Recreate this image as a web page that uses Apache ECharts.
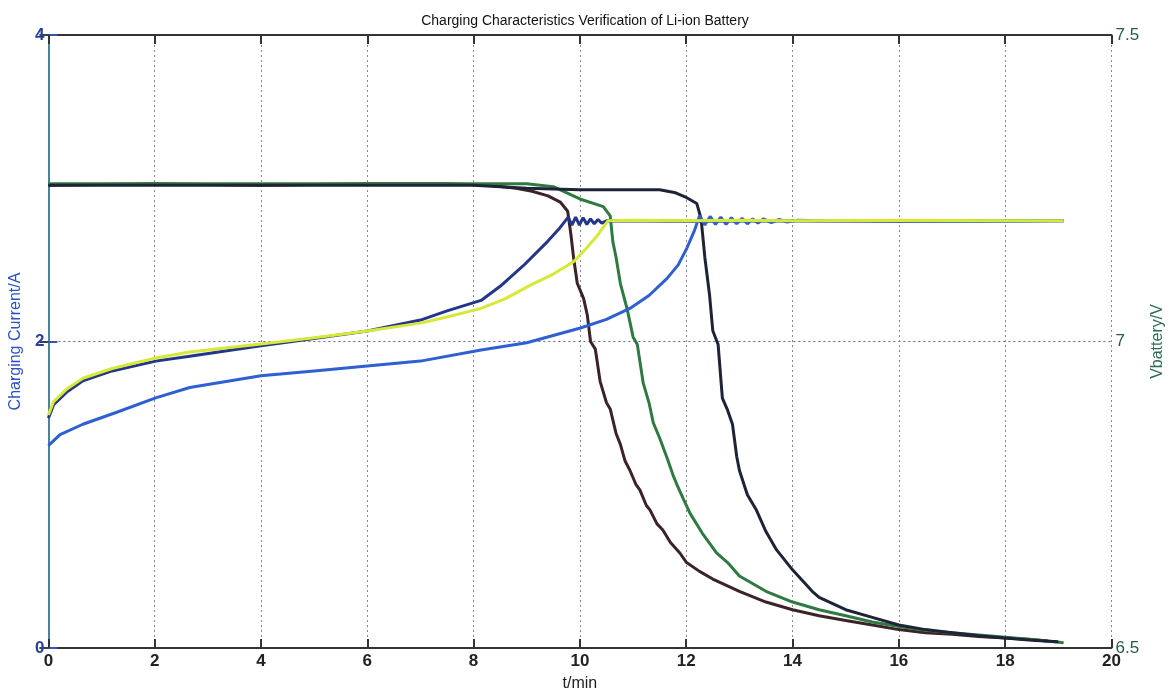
<!DOCTYPE html>
<html>
<head>
<meta charset="utf-8">
<script src="https://cdn.jsdelivr.net/npm/echarts@6/dist/echarts.min.js"></script>
<style>
  html, body { margin: 0; padding: 0; background: #fff; overflow: hidden; width: 100%; height: 100%; }
  #chart { width: 100%; height: 100%; }
</style>
</head>
<body>
<div id="chart"></div>
<script>
// time ticks / axis ranges
const xTicks = [0, 2, 4, 6, 8, 10, 12, 14, 16, 18, 20]

// charging current (A), [t/min, I]
const brownCurrent = [
  [0, 3.02], [2, 3.03], [4, 3.02], [6, 3.03], [7.5, 3.03], [8.3, 3.02], [8.8, 3.0], [9.1, 2.98],
  [9.4, 2.95], [9.63, 2.91], [9.77, 2.85], [9.83, 2.7], [9.88, 2.55], [9.95, 2.38], [10.07, 2.28],
  [10.14, 2.17], [10.2, 2.0], [10.29, 1.95], [10.38, 1.74], [10.5, 1.6], [10.57, 1.56], [10.68, 1.4],
  [10.76, 1.33], [10.85, 1.22], [10.94, 1.16], [11.05, 1.07], [11.13, 1.03], [11.25, 0.93],
  [11.32, 0.9], [11.45, 0.81], [11.56, 0.77], [11.7, 0.69], [11.88, 0.62], [12.0, 0.56],
  [12.25, 0.5], [12.5, 0.45], [13, 0.37], [13.5, 0.3], [14, 0.25], [14.5, 0.21], [15, 0.18],
  [15.5, 0.15], [16, 0.12], [16.5, 0.1], [17, 0.09], [17.5, 0.075], [18, 0.065], [18.5, 0.055], [18.8, 0.045]
]
const greenCurrent = [
  [0, 3.03], [2, 3.03], [4, 3.03], [6, 3.03], [8, 3.03], [9, 3.03], [9.5, 3.01], [10.0, 2.93],
  [10.44, 2.88], [10.57, 2.82], [10.62, 2.65], [10.68, 2.55], [10.76, 2.38], [10.89, 2.21],
  [11.0, 2.03], [11.08, 1.98], [11.19, 1.73], [11.3, 1.6], [11.38, 1.47], [11.5, 1.37],
  [11.64, 1.24], [11.75, 1.13], [11.82, 1.07], [11.95, 0.97], [12.07, 0.88], [12.3, 0.75],
  [12.57, 0.62], [12.8, 0.55], [13, 0.47], [13.5, 0.37], [14, 0.3], [14.5, 0.25], [15, 0.21],
  [15.5, 0.17], [16, 0.14], [16.5, 0.115], [17, 0.1], [17.5, 0.085], [18, 0.07], [18.5, 0.055], [19.1, 0.035]
]
const navyCurrent = [
  [0, 3.02], [4, 3.02], [8, 3.02], [9, 3.0], [10, 2.99], [11, 2.99], [11.5, 2.99], [11.8, 2.97],
  [12.0, 2.94], [12.2, 2.9], [12.28, 2.8], [12.35, 2.55], [12.44, 2.3], [12.5, 2.07], [12.6, 1.98],
  [12.68, 1.63], [12.78, 1.55], [12.87, 1.46], [12.95, 1.25], [13.0, 1.16], [13.15, 1.0],
  [13.32, 0.9], [13.5, 0.76], [13.7, 0.64], [14, 0.51], [14.37, 0.37], [14.5, 0.33], [15, 0.25],
  [15.5, 0.2], [16, 0.15], [16.5, 0.12], [17, 0.1], [17.5, 0.08], [18, 0.065], [18.5, 0.05], [19, 0.04]
]

// battery voltage (V), [t/min, V]
const navyVoltage = [
  [0, 6.875], [0.1, 6.897], [0.34, 6.917], [0.65, 6.936], [1.2, 6.952], [2.02, 6.968], [2.66, 6.976],
  [4, 6.993], [5, 7.005], [6, 7.017], [7, 7.035], [7.5, 7.05], [8.14, 7.067], [8.5, 7.09],
  [8.94, 7.124], [9.39, 7.163], [9.6, 7.183], [9.78, 7.203], [9.85, 7.19], [9.92, 7.203],
  [9.99, 7.19], [10.06, 7.202], [10.13, 7.191], [10.2, 7.2], [10.27, 7.192], [10.34, 7.199],
  [10.41, 7.193], [10.5, 7.197], [12, 7.196], [14, 7.197], [16, 7.196], [19.1, 7.197]
]
const yellowVoltage = [
  [0, 6.88], [0.1, 6.902], [0.34, 6.922], [0.65, 6.94], [1.2, 6.956], [2.02, 6.973], [2.66, 6.983],
  [4, 6.996], [5, 7.006], [6, 7.017], [7, 7.03], [7.5, 7.04], [8.14, 7.054], [8.6, 7.07],
  [9.07, 7.092], [9.5, 7.11], [9.88, 7.13], [10.1, 7.15], [10.33, 7.173], [10.53, 7.197],
  [11, 7.198], [12, 7.197], [13, 7.198], [14, 7.197], [16, 7.198], [18, 7.197], [19.1, 7.197]
]
const blueVoltage = [
  [0, 6.83], [0.22, 6.848], [0.65, 6.865], [1.3, 6.885], [2.02, 6.908], [2.66, 6.925], [4, 6.944],
  [5, 6.952], [6, 6.96], [7, 6.968], [8.14, 6.986], [9, 6.998], [10.01, 7.022], [10.5, 7.036],
  [10.94, 7.054], [11.3, 7.075], [11.64, 7.103], [11.85, 7.125], [12.01, 7.152], [12.15, 7.18],
  [12.25, 7.205], [12.35, 7.19], [12.45, 7.204], [12.55, 7.191], [12.65, 7.203], [12.75, 7.191],
  [12.85, 7.202], [12.95, 7.192], [13.05, 7.201], [13.15, 7.192], [13.25, 7.2], [13.35, 7.193],
  [13.45, 7.2], [13.6, 7.194], [13.75, 7.199], [13.9, 7.195], [14.1, 7.198], [14.5, 7.197],
  [16, 7.197], [18, 7.196], [19.1, 7.197]
]

const chart = echarts.init(document.getElementById('chart'))

function line(name, data, color, yIdx, z) {
  return {
    name: name,
    type: 'line',
    yAxisIndex: yIdx,
    data: data,
    showSymbol: false,
    symbol: 'none',
    smooth: false,
    z: z,
    lineStyle: { color: color, width: 3 }
  }
}

const option = {
  backgroundColor: '#fff',
  animation: false,
  title: {
    text: 'Charging Characteristics Verification of Li-ion Battery',
    left: 580,
    top: 9,
    textAlign: 'center',
    textStyle: { fontFamily: 'Liberation Sans, Arial', fontSize: 14, fontWeight: 'normal', color: '#111' }
  },
  grid: { left: 45, right: 60, top: 35, bottom: 45, containLabel: false },
  xAxis: [{
    type: 'value',
    min: 0,
    max: 20,
    interval: 2,
    name: 't/min',
    nameLocation: 'middle',
    nameGap: 28,
    nameTextStyle: { fontFamily: 'Liberation Sans, Arial', fontSize: 16, color: '#222' },
    axisLine: { lineStyle: { color: '#333', width: 2 } },
    axisTick: { inside: true, length: 9, lineStyle: { color: '#333', width: 2 } },
    axisLabel: {
      margin: 5, fontFamily: 'Liberation Sans, Arial', fontSize: 17, fontWeight: 'bold', color: '#222',
      formatter: v => xTicks.includes(v) ? String(v) : ''
    },
    splitLine: { show: true, lineStyle: { color: '#888', type: [2, 3], width: 1 } }
  }, {
    type: 'value',
    position: 'top',
    min: 0,
    max: 20,
    interval: 2,
    axisLine: { show: true, lineStyle: { color: '#333', width: 2 } },
    axisTick: { inside: true, length: 9, lineStyle: { color: '#333', width: 2 } },
    axisLabel: { show: false },
    splitLine: { show: false }
  }],
  yAxis: [{
    type: 'value',
    min: 0,
    max: 4,
    interval: 2,
    name: 'Charging Current/A',
    nameLocation: 'middle',
    nameGap: 21,
    nameTextStyle: { fontFamily: 'Liberation Sans, Arial', fontSize: 16, color: '#2f4fc4' },
    axisLine: { show: true, lineStyle: { color: '#3a4fb8', width: 2 } },
    axisTick: { show: true, inside: true, length: 9, lineStyle: { color: '#3a4fb8', width: 2 } },
    axisLabel: { margin: 4, fontFamily: 'Liberation Sans, Arial', fontSize: 17, fontWeight: 'bold', color: '#2c3f9e' },
    splitLine: { show: true, lineStyle: { color: '#5a66b0', type: [2, 3], width: 1 } }
  }, {
    type: 'value',
    position: 'right',
    min: 6.5,
    max: 7.5,
    interval: 0.5,
    name: 'Vbattery/V',
    nameLocation: 'middle',
    nameGap: 33,
    nameTextStyle: { fontFamily: 'Liberation Sans, Arial', fontSize: 16, color: '#2e6a55' },
    axisLine: { show: true, lineStyle: { color: '#4f8298', width: 2 } },
    axisTick: { show: true, inside: true, length: 9, lineStyle: { color: '#2e4a45', width: 2 } },
    axisLabel: { margin: 4, fontFamily: 'Liberation Sans, Arial', fontSize: 17, color: '#2a5a48' },
    splitLine: { show: false }
  }],
  series: [
    line('I brown', brownCurrent, '#3b2328', 0, 3),
    line('I green', greenCurrent, '#2f7a40', 0, 4),
    line('I navy', navyCurrent, '#1e2338', 0, 5),
    line('V navy', navyVoltage, '#23378a', 1, 6),
    line('V blue', blueVoltage, '#2f60d2', 1, 7),
    line('V yellow', yellowVoltage, '#d6e838', 1, 8)
  ]
}

chart.setOption(option)
window.addEventListener('resize', () => chart.resize())
</script>
</body>
</html>
